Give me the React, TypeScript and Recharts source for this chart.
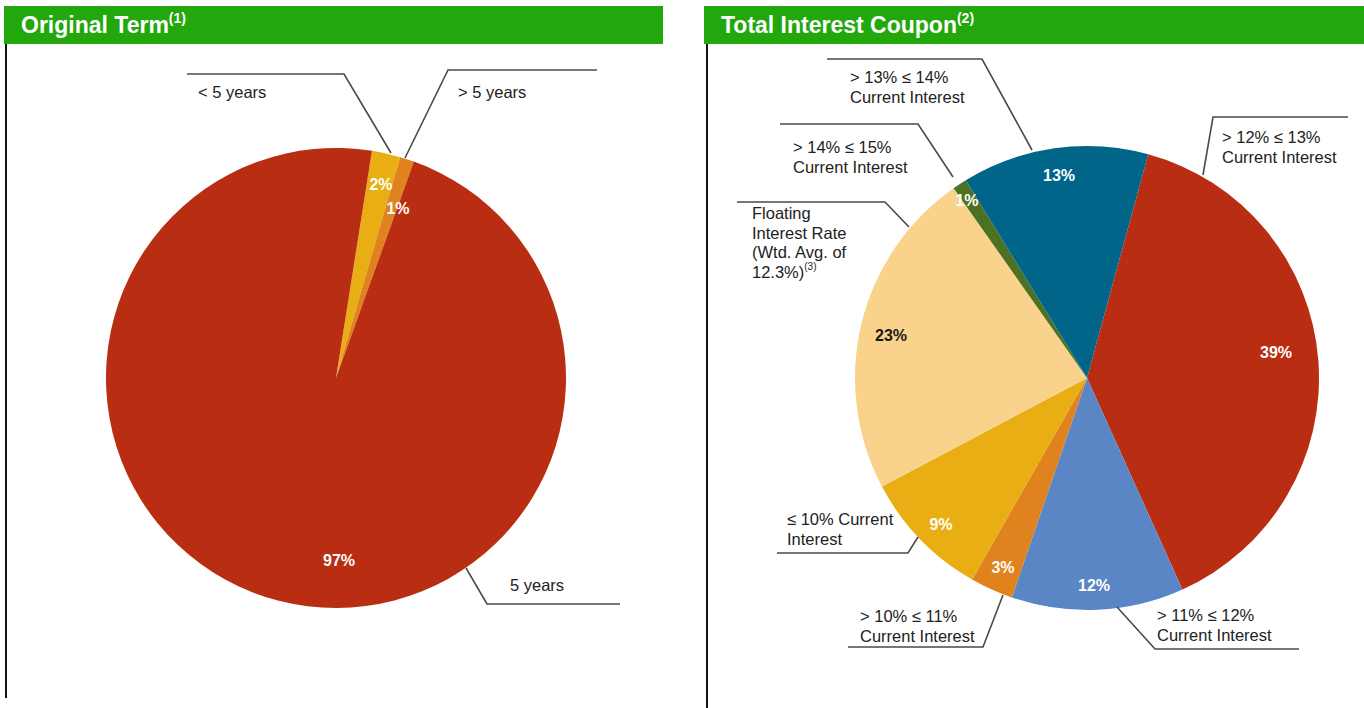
import { Cell, Pie, PieChart } from "recharts";

// Original Term (left pie), clockwise from the small slices
const termLabels = [["< 5 years"], ["> 5 years"], ["5 years"]];
const termValues = [2, 1, 97];
const termColors = ["#E9AE13", "#E0821D", "#B92D12"];

// Total Interest Coupon (right pie), clockwise from the red slice
const couponLabels = [
  ["> 12% \u2264 13%", "Current Interest"],
  ["> 11% \u2264 12%", "Current Interest"],
  ["> 10% \u2264 11%", "Current Interest"],
  ["\u2264 10% Current", "Interest"],
  ["Floating", "Interest Rate", "(Wtd. Avg. of", "12.3%)^(3)"],
  ["> 14% \u2264 15%", "Current Interest"],
  ["> 13% \u2264 14%", "Current Interest"],
];
const couponValues = [39, 12, 3, 9, 23, 1, 13];
const couponColors = ["#B92D12", "#5B86C5", "#E0821D", "#E9AE13", "#F9D38C", "#4C7122", "#006589"];

const termData = termValues.map((v, i) => ({ name: termLabels[i].join(" "), value: v }));
const couponData = couponValues.map((v, i) => ({ name: couponLabels[i].join(" "), value: v }));

type Pt = [number, number];
interface LabelLayout {
  pct: Pt;          // percent text, offset from pie centre
  line: Pt[];       // leader line, offsets from pie centre
  text: Pt;         // first text line (left x, centre y)
  dark?: boolean;
}

const termLayout: LabelLayout[] = [
  { pct: [45, -194], line: [[55, -225], [8, -304], [-149, -304]], text: [-138, -286] },
  { pct: [62, -170], line: [[69, -220], [112, -308], [261, -308]], text: [122, -286] },
  { pct: [3, 182], line: [[130, 190], [151, 226], [284, 226]], text: [174, 207] },
];

const couponLayout: LabelLayout[] = [
  { pct: [189, -26], line: [[116, -203], [126, -261], [261, -261]], text: [135, -241] },
  { pct: [7, 207], line: [[30, 229], [68, 271], [212, 271]], text: [70, 237] },
  { pct: [-84, 189], line: [[-84, 217], [-104, 269], [-239, 269]], text: [-227, 238] },
  { pct: [-146, 146], line: [[-169, 159], [-179, 175], [-310, 175]], text: [-300, 141] },
  { pct: [-196, -43], line: [[-178, -151], [-202, -176], [-350, -176]], text: [-335, -165], dark: true },
  { pct: [-120, -178], line: [[-134, -201], [-169, -254], [-307, -254]], text: [-294, -231] },
  { pct: [-28, -203], line: [[-55, -228], [-105, -319], [-260, -319]], text: [-237, -301] },
];

const FONT = "'Liberation Sans', Arial, Helvetica, sans-serif";

const makeLabel = (layout: LabelLayout[], lines: string[][]) => (props: any) => {
  const { cx, cy, index, value } = props;
  const l = layout[index];
  const pts = l.line.map(([x, y]) => `${cx + x},${cy + y}`).join(" ");
  return (
    <g key={`lbl-${index}`}>
      <polyline points={pts} fill="none" stroke="#4a4a4a" strokeWidth={1.6} />
      <text
        x={cx + l.pct[0]}
        y={cy + l.pct[1]}
        textAnchor="middle"
        dominantBaseline="central"
        fill={l.dark ? "#1a1a1a" : "#ffffff"}
        fontFamily={FONT}
        fontWeight="bold"
        fontSize={16}
      >
        {value}%
      </text>
      {lines[index].map((t, i) => {
        const [main, sup] = t.split("^");
        return (
          <text
            key={i}
            x={cx + l.text[0]}
            y={cy + l.text[1] + i * 19.5}
            dominantBaseline="central"
            fill="#222222"
            fontFamily={FONT}
            fontSize={16.5}
          >
            {main}
            {sup && (
              <tspan fontSize={10} dy={-6}>
                {sup}
              </tspan>
            )}
          </text>
        );
      })}
    </g>
  );
};

function Header({ left, width, title, note }: { left: number; width: number; title: string; note: string }) {
  return (
    <div
      style={{
        position: "absolute",
        left,
        top: 6,
        width,
        height: 38,
        background: "#22A70C",
        color: "#ffffff",
        fontFamily: FONT,
        fontWeight: "bold",
        fontSize: 23,
        lineHeight: "38px",
        paddingLeft: 17,
        boxSizing: "border-box",
        whiteSpace: "nowrap",
      }}
    >
      {title}
      <sup style={{ fontSize: 14, verticalAlign: "top", lineHeight: "24px" }}>{note}</sup>
    </div>
  );
}

export default function App() {
  return (
    <div style={{ position: "absolute", left: 0, top: 0, width: 1364, height: 708, background: "#ffffff", overflow: "hidden" }}>
      <Header left={4} width={659} title="Original Term" note="(1)" />
      <Header left={704} width={660} title="Total Interest Coupon" note="(2)" />
      <div style={{ position: "absolute", left: 5, top: 44, width: 2, height: 654, background: "#111" }} />
      <div style={{ position: "absolute", left: 706, top: 44, width: 2, height: 664, background: "#111" }} />
      <div style={{ position: "absolute", left: 0, top: 0 }}>
        <PieChart width={1364} height={708} margin={{ top: 0, right: 0, bottom: 0, left: 0 }}>
          <Pie
            data={termData}
            dataKey="value"
            nameKey="name"
            cx={336}
            cy={378}
            outerRadius={230}
            startAngle={81}
            endAngle={-279}
            stroke="none"
            labelLine={false}
            label={makeLabel(termLayout, termLabels)}
            isAnimationActive={false}
          >
            {termData.map((d, i) => (
              <Cell key={d.name} fill={termColors[i]} />
            ))}
          </Pie>
          <Pie
            data={couponData}
            dataKey="value"
            nameKey="name"
            cx={1087}
            cy={378}
            outerRadius={232}
            startAngle={74.7}
            endAngle={-285.3}
            stroke="none"
            labelLine={false}
            label={makeLabel(couponLayout, couponLabels)}
            isAnimationActive={false}
          >
            {couponData.map((d, i) => (
              <Cell key={d.name} fill={couponColors[i]} />
            ))}
          </Pie>
        </PieChart>
      </div>
    </div>
  );
}
